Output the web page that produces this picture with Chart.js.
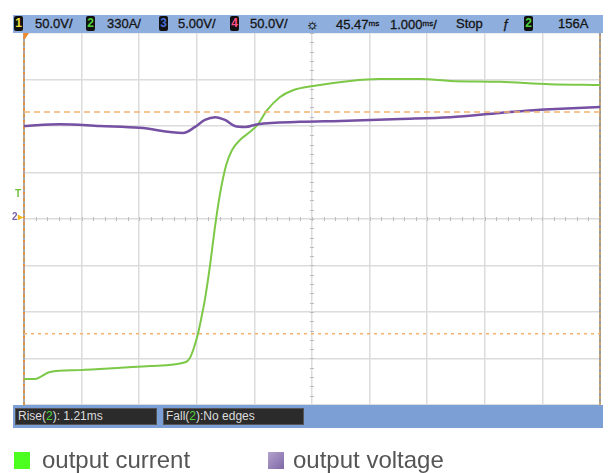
<!DOCTYPE html>
<html>
<head>
<meta charset="utf-8">
<script src="https://cdn.jsdelivr.net/npm/chart.js@4/dist/chart.umd.min.js"></script>
<style>
  html, body { margin: 0; padding: 0; background: #fff; }
  #scope { position: relative; width: 608px; height: 473px; overflow: hidden; font-family: "Liberation Sans", Arial, sans-serif; }
  #scope canvas { position: absolute; left: 0; top: 0; }
  .barra { position: absolute; background: #8eaedd; }
  .txt { position: absolute; top: 1px; font-size: 13px; color: #141414; white-space: nowrap; line-height: 16px; -webkit-text-stroke: 0.3px #141414; }
  .badge { position: absolute; top: 1px; width: 9px; height: 15px; background: #111; border-radius: 2px; font-size: 12px; font-weight: bold; line-height: 15px; text-align: center; }
  .ms { font-size: 8px; vertical-align: 3px; }
  .caixa { position: absolute; top: 3px; height: 15px; background: #2b2b2b; border: 1px solid #555; color: #ddd; font-size: 12px; line-height: 15px; padding-left: 2px; white-space: nowrap; }
  .marca { position: absolute; font-size: 10px; font-weight: bold; }
  .leg { position: absolute; top: 446px; font-size: 24px; color: #555; white-space: nowrap; }
  .quad { position: absolute; top: 452px; width: 16px; height: 17px; }
</style>
</head>
<body>
<div id="scope">
  <canvas id="grafico" width="608" height="473"></canvas>

  <!-- barra de canais -->
  <div class="barra" style="left:13px; top:15px; width:590px; height:18px;">
    <div class="badge" style="left:1px; color:#f2e23a;">1</div>
    <div class="txt" style="left:22px;">50.0V/</div>
    <div class="badge" style="left:73px; color:#4fd33a;">2</div>
    <div class="txt" style="left:94px;">330A/</div>
    <div class="badge" style="left:146px; color:#4a6fd8;">3</div>
    <div class="txt" style="left:165px;">5.00V/</div>
    <div class="badge" style="left:217px; color:#ff4f8a;">4</div>
    <div class="txt" style="left:237px;">50.0V/</div>
    <div class="txt" style="left:293px; font-size:14px;">☼</div>
    <div class="txt" style="left:323px;">45.47<span class="ms">ms</span></div>
    <div class="txt" style="left:377px;">1.000<span class="ms">ms</span>/</div>
    <div class="txt" style="left:443px;">Stop</div>
    <div class="txt" style="left:489px; font-style:italic;">ƒ</div>
    <div class="badge" style="left:511px; color:#4fd33a;">2</div>
    <div class="txt" style="left:545px;">156A</div>
  </div>

  <!-- barra de medidas -->
  <div class="barra" style="left:13px; top:405px; width:590px; height:23px; background:#7c9fd6;">
    <div class="caixa" style="left:2px; width:138px;">Rise(<span style="color:#4fd33a">2</span>): 1.21ms</div>
    <div class="caixa" style="left:150px; width:137px;">Fall(<span style="color:#4fd33a">2</span>):No edges</div>
  </div>

  <!-- marcadores à esquerda -->
  <div class="marca" style="left:15px; top:188px; color:#6fbf3a;">T</div>
  <div class="marca" style="left:12px; top:211px; color:#7a5fb0;">2<span style="color:#f2b81f">▸</span></div>

  <!-- legenda -->
  <div class="quad" style="left:14px; background:#4cff1f;"></div>
  <div class="leg" style="left:42px;">output current</div>
  <div class="quad" style="left:268px; background:linear-gradient(135deg,#b3a2cf,#7f68a5);"></div>
  <div class="leg" style="left:293px;">output voltage</div>
</div>

<script>
// tempo em ms desde a borda esquerda do ecrã (1.000 ms/div), amplitude em divisões
const correnteTempo = [0, 0.19, 0.45, 0.97, 1.67, 2.19, 2.80, 2.88, 2.95, 3.02, 3.09, 3.14, 3.23, 3.32, 3.40, 3.51, 3.61, 3.75, 3.92, 4.05, 4.22, 4.44, 4.67, 5.02, 5.66, 6.18, 6.88, 7.40, 8.26, 9.13, 10];
const correnteDiv = [-3.44, -3.44, -3.29, -3.25, -3.20, -3.16, -3.08, -2.99, -2.77, -2.47, -2.06, -1.74, -0.99, -0.13, 0.52, 1.16, 1.48, 1.70, 1.87, 2.02, 2.34, 2.62, 2.77, 2.86, 2.97, 3.01, 3.01, 2.97, 2.95, 2.90, 2.88];

const tensaoTempo = [0, 0.63, 1.32, 2.01, 2.76, 2.97, 3.14, 3.32, 3.49, 3.66, 3.84, 4.06, 4.79, 5.49, 6.53, 7.40, 8.26, 8.85, 9.13, 10];
const tensaoDiv = [2.00, 2.04, 2.00, 1.96, 1.85, 1.98, 2.13, 2.19, 2.13, 2.00, 1.98, 2.04, 2.09, 2.11, 2.15, 2.19, 2.28, 2.34, 2.36, 2.41];

// limiares de medida (10% / 90%) em divisões
const limiarAlto = 2.30;
const limiarBaixo = -2.47;

const tempoMin = 0, tempoMax = 10;
const divMin = -4, divMax = 4;

const pontos = (xs, ys) => xs.map((x, i) => ({ x, y: ys[i] }));

// decoração do ecrã: bordas tracejadas, marcas do centro, triângulo de trigger
const decoracaoScope = {
  id: 'decoracaoScope',
  beforeDatasetsDraw(chart) {
    const { ctx, chartArea: a, scales: { x, y } } = chart;
    ctx.save();
    ctx.lineWidth = 1;
    ctx.strokeStyle = '#bdbdbd';
    const cx = x.getPixelForValue(5), cy = y.getPixelForValue(0);
    for (let v = tempoMin; v <= tempoMax + 1e-9; v += 0.2) {
      const px = Math.round(x.getPixelForValue(v)) + 0.5;
      ctx.beginPath(); ctx.moveTo(px, cy - 2); ctx.lineTo(px, cy + 2); ctx.stroke();
    }
    for (let v = divMin; v <= divMax + 1e-9; v += 0.2) {
      const py = Math.round(y.getPixelForValue(v)) + 0.5;
      ctx.beginPath(); ctx.moveTo(cx - 2, py); ctx.lineTo(cx + 2, py); ctx.stroke();
    }
    // bordas esquerda e direita
    ctx.lineWidth = 2;
    [[a.left, '#e0914a', '#a9a9a9'], [a.right, '#c9a46e', '#9a9a9a']].forEach(([px, c1, c2]) => {
      ctx.setLineDash([3, 3]);
      ctx.strokeStyle = c2;
      ctx.beginPath(); ctx.moveTo(px, a.top); ctx.lineTo(px, a.bottom); ctx.stroke();
      ctx.lineDashOffset = 3;
      ctx.strokeStyle = c1;
      ctx.beginPath(); ctx.moveTo(px, a.top); ctx.lineTo(px, a.bottom); ctx.stroke();
      ctx.lineDashOffset = 0;
    });
    ctx.setLineDash([]);
    ctx.fillStyle = '#f0892a';
    ctx.beginPath(); ctx.moveTo(a.left - 1, a.top); ctx.lineTo(a.left + 5, a.top); ctx.lineTo(a.left + 1, a.top + 6); ctx.closePath(); ctx.fill();
    ctx.restore();
  }
};

new Chart(document.getElementById('grafico'), {
  type: 'line',
  data: {
    datasets: [
      { label: 'limiar alto', data: pontos([tempoMin, tempoMax], [limiarAlto, limiarAlto]), borderColor: '#f3b36e', borderWidth: 1.5, borderDash: [6, 4], pointRadius: 0 },
      { label: 'limiar baixo', data: pontos([tempoMin, tempoMax], [limiarBaixo, limiarBaixo]), borderColor: '#f3b36e', borderWidth: 1.5, borderDash: [3, 4], pointRadius: 0 },
      { label: 'output voltage', data: pontos(tensaoTempo, tensaoDiv), borderColor: '#7650a3', borderWidth: 2.5, pointRadius: 0, cubicInterpolationMode: 'monotone' },
      { label: 'output current', data: pontos(correnteTempo, correnteDiv), borderColor: '#7cc847', borderWidth: 2, pointRadius: 0, cubicInterpolationMode: 'monotone' }
    ]
  },
  options: {
    animation: false,
    responsive: false,
    layout: { padding: { left: 24, top: 33, right: 8, bottom: 68 } },
    plugins: { legend: { display: false }, tooltip: { enabled: false } },
    scales: {
      x: {
        type: 'linear', min: tempoMin, max: tempoMax,
        ticks: { display: false, stepSize: 1 },
        border: { display: false },
        grid: { drawTicks: false, lineWidth: 1.5, color: c => (c.index === 0 || c.index === 10) ? 'rgba(0,0,0,0)' : '#dcdcdc' }
      },
      y: {
        min: divMin, max: divMax,
        ticks: { display: false, stepSize: 1 },
        border: { display: false },
        grid: { drawTicks: false, lineWidth: 1.5, color: '#dcdcdc' }
      }
    }
  },
  plugins: [decoracaoScope]
});
</script>
</body>
</html>
